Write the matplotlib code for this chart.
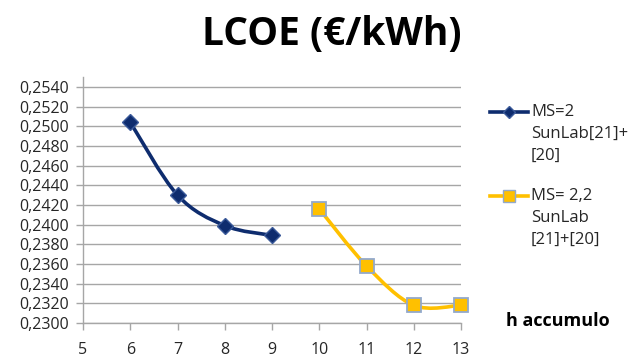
import matplotlib
matplotlib.use("Agg")
import matplotlib.pyplot as plt
from matplotlib.path import Path
from matplotlib.patches import PathPatch
from matplotlib.lines import Line2D
import numpy as np

plt.rcParams['font.family'] = ['Open Sans', 'DejaVu Sans']

# LCOE per hours of storage
hours_ms2 = [6, 7, 8, 9]
lcoe_ms2 = [0.2504, 0.2430, 0.2399, 0.2389]
hours_ms22 = [10, 11, 12, 13]
lcoe_ms22 = [0.2416, 0.2358, 0.2318, 0.2318]

label_ms2 = "MS=2\nSunLab[21]+\n[20]"
label_ms22 = "MS= 2,2\nSunLab\n[21]+[20]"
title = "LCOE (€/kWh)"
xlabel = "h accumulo"

y_ticks = np.round(np.arange(0.2300, 0.25401, 0.002), 4)
x_ticks = list(range(5, 14))

navy = "#0E2C6E"
navy_edge = "#3B5A9A"
gold = "#FFC000"
gold_edge = "#93A9CB"
grid_col = "#A6A6A6"


def smooth_path(xs, ys):
    """Smoothed Bezier path through the points (Catmull-Rom style, 1/6 handles)."""
    pts = np.column_stack([xs, ys]).astype(float)
    n = len(pts)
    verts = [pts[0]]
    codes = [Path.MOVETO]
    for i in range(n - 1):
        p0 = pts[i - 1] if i > 0 else pts[i]
        p1 = pts[i]
        p2 = pts[i + 1]
        p3 = pts[i + 2] if i + 2 < n else pts[i + 1]
        c1 = p1 + (p2 - p0) / 6.0
        c2 = p2 - (p3 - p1) / 6.0
        verts += [c1, c2, p2]
        codes += [Path.CURVE4] * 3
    return Path(verts, codes)


fig = plt.figure(figsize=(6.28, 3.58), dpi=100)
ax = fig.add_axes([83 / 628, 35 / 358, (461 - 83) / 628, (323 - 77) / 358])

ax.set_xlim(5, 13)
ax.set_ylim(0.2300, 0.2550)
ax.set_yticks(y_ticks)
ax.set_yticklabels([f"{v:.4f}".replace(".", ",") for v in y_ticks])
ax.set_xticks(x_ticks)
ax.set_xticklabels([str(v) for v in x_ticks])
ax.tick_params(axis='both', labelsize=11.5, colors=grid_col, labelcolor="#262626",
               length=5, width=1)
ax.tick_params(axis='y', pad=5)
ax.tick_params(axis='x', pad=9)

ax.yaxis.grid(True, color=grid_col, linewidth=1)
ax.set_axisbelow(True)
for side in ["top", "right"]:
    ax.spines[side].set_visible(False)
for side in ["left", "bottom"]:
    ax.spines[side].set_color(grid_col)
    ax.spines[side].set_linewidth(1)

ax.add_patch(PathPatch(smooth_path(hours_ms2, lcoe_ms2), facecolor='none',
                       edgecolor=navy, linewidth=2.6, capstyle='round', zorder=3))
ax.plot(hours_ms2, lcoe_ms2, linestyle='none', marker='D', markersize=8,
        markerfacecolor=navy, markeredgecolor=navy_edge, markeredgewidth=1, zorder=4,
        clip_on=False)

ax.add_patch(PathPatch(smooth_path(hours_ms22, lcoe_ms22), facecolor='none',
                       edgecolor=gold, linewidth=2.6, capstyle='round', zorder=3))
ax.plot(hours_ms22, lcoe_ms22, linestyle='none', marker='s', markersize=10,
        markerfacecolor=gold, markeredgecolor=gold_edge, markeredgewidth=1.3, zorder=4,
        clip_on=False)

fig.text(332 / 628, 1 - 35 / 358, title, ha='center', va='center',
         fontsize=28, fontweight='bold', color='black')
fig.text(558 / 628, 1 - 321 / 358, xlabel, ha='center', va='center',
         fontsize=13, fontweight='bold', color='black')

# legend drawn as figure-level lines and texts
for (y_px, col, mk, ms, mfc, mec, lab) in [
    (112, navy, 'D', 6, navy, navy_edge, label_ms2),
    (196, gold, 's', 9, gold, gold_edge, label_ms22),
]:
    yf = 1 - y_px / 358
    fig.add_artist(Line2D([490 / 628, 528 / 628], [yf, yf], color=col, linewidth=2.6,
                          transform=fig.transFigure))
    fig.add_artist(Line2D([509 / 628], [yf], marker=mk, markersize=ms,
                          markerfacecolor=mfc, markeredgecolor=mec, markeredgewidth=1,
                          transform=fig.transFigure))
    fig.text(531 / 628, 1 - (y_px - 8) / 358, lab, ha='left', va='top',
             fontsize=12, color="#262626", linespacing=1.5)

fig.savefig("out.png", dpi=100, facecolor='white')
